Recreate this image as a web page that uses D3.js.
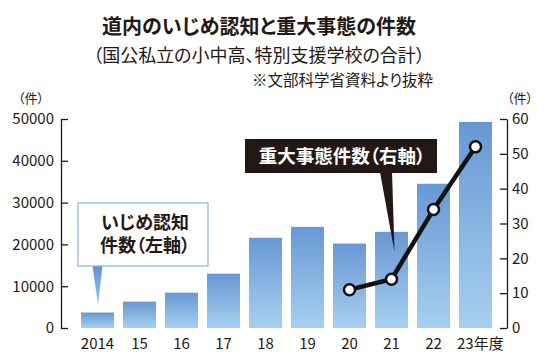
<!DOCTYPE html>
<html>
<head>
<meta charset="utf-8">
<script src="https://cdn.jsdelivr.net/npm/d3@7"></script>
<style>
  body { margin:0; background:#fff; }
  svg text { font-family:"Noto Sans CJK JP","Noto Sans",sans-serif; fill:#231815; font-feature-settings:"palt"; }
</style>
</head>
<body>
<svg id="chart" width="550" height="363"></svg>
<script>
// data
var years = ["2014","15","16","17","18","19","20","21","22","23年度"];
var ijime = [3700, 6300, 8450, 13000, 21600, 24200, 20200, 23000, 34500, 49300];
var seriousYears = ["20","21","22","23年度"];
var serious = [11, 14, 34, 52];
var leftTicks = [0,10000,20000,30000,40000,50000];
var rightTicks = [0,10,20,30,40,50,60];

var svg = d3.select("#chart");
var plotTop = 119, plotBottom = 328;

var x = d3.scaleBand().domain(years).range([76.5,496.5]).paddingInner(0.214).paddingOuter(0.107);
var yL = d3.scaleLinear().domain([0,50000]).range([plotBottom,plotTop]);
var yR = d3.scaleLinear().domain([0,60]).range([plotBottom,plotTop]);

// gradient for bars
var defs = svg.append("defs");
var grad = defs.append("linearGradient").attr("id","barGrad")
	.attr("x1",0).attr("y1",0).attr("x2",0).attr("y2",1);
grad.append("stop").attr("offset","0%").attr("stop-color","#6898d5");
grad.append("stop").attr("offset","100%").attr("stop-color","#a7d0ef");
var gradP = defs.append("linearGradient").attr("id","ptrGrad")
	.attr("x1",0).attr("y1",0).attr("x2",0).attr("y2",1);
gradP.append("stop").attr("offset","0%").attr("stop-color","#5f93d3");
gradP.append("stop").attr("offset","100%").attr("stop-color","#9cc6ea");

// titles
svg.append("text").attr("x",259).attr("y",34).attr("text-anchor","middle")
	.style("font-size","20px").style("font-weight","bold")
	.text("道内のいじめ認知と重大事態の件数");
svg.append("text").attr("x",259).attr("y",62).attr("text-anchor","middle")
	.style("font-size","18px")
	.text("（国公私立の小中高、特別支援学校の合計）");
svg.append("text").attr("x",433).attr("y",86).attr("text-anchor","end")
	.style("font-size","15.5px")
	.text("※文部科学省資料より抜粋");
svg.append("text").attr("x",31).attr("y",103).attr("text-anchor","middle")
	.style("font-size","13px").text("（件）");
svg.append("text").attr("x",520).attr("y",103).attr("text-anchor","middle")
	.style("font-size","13px").text("（件）");

// bars
svg.append("g").selectAll("rect")
	.data(ijime)
	.enter()
	.append("rect")
	.attr("x",function(d,i){ return x(years[i]); })
	.attr("y",function(d){ return yL(d); })
	.attr("width",x.bandwidth())
	.attr("height",function(d){ return plotBottom - yL(d); })
	.attr("fill","url(#barGrad)");

// axes
var axL = svg.append("g").attr("transform","translate(61,0)")
	.call(d3.axisLeft(yL).tickValues(leftTicks).tickSizeInner(-7).tickSizeOuter(0).tickPadding(7).tickFormat(d3.format("d")));
var axR = svg.append("g").attr("transform","translate(507,0)")
	.call(d3.axisRight(yR).tickValues(rightTicks).tickSizeInner(-7).tickSizeOuter(0).tickPadding(5));
[axL,axR].forEach(function(ax){
	ax.selectAll("path,line").attr("stroke","#231815").attr("stroke-width",1.3);
	ax.selectAll("text").style("font-size","15px").attr("fill","#231815")
		.style("font-family","'Noto Sans CJK JP',sans-serif");
});

// x labels
svg.append("g").selectAll("text")
	.data(years)
	.enter()
	.append("text")
	.attr("x",function(d,i){ return i==years.length-1 ? x(d)-2 : x(d)+x.bandwidth()/2; })
	.attr("y",349)
	.attr("text-anchor",function(d,i){ return i==years.length-1 ? "start" : "middle"; })
	.style("font-size","15px")
	.text(function(d){ return d; });

// left callout
var lb = svg.append("g");
var p0 = x(years[0]) + x.bandwidth()/2;
lb.append("path")
	.attr("d","M"+(p0-5)+",266 L"+(p0+5)+",266 L"+(p0+0.5)+",305 Z")
	.attr("fill","url(#ptrGrad)");
lb.append("rect").attr("x",78).attr("y",203).attr("width",130).attr("height",63)
	.attr("fill","#fff").attr("stroke","#8fb3d9").attr("stroke-width",1.2);
lb.append("text").attr("x",145).attr("y",229).attr("text-anchor","middle")
	.style("font-size","18px").style("font-weight","bold").text("いじめ認知");
lb.append("text").attr("x",145).attr("y",252).attr("text-anchor","middle")
	.style("font-size","18px").style("font-weight","bold").text("件数（左軸）");

// dark callout
var db = svg.append("g");
var p1 = x("21") + x.bandwidth()/2;
db.append("path")
	.attr("d","M380,172 L392,172 L"+(p1+3)+",252 Z")
	.attr("fill","#231815");
db.append("rect").attr("x",245).attr("y",139).attr("width",192).attr("height",34)
	.attr("fill","#231815");
db.append("text").attr("x",342).attr("y",163).attr("text-anchor","middle")
	.style("font-size","18.5px").style("font-weight","bold").style("fill","#fff")
	.text("重大事態件数（右軸）");

// line
var line = d3.line()
	.x(function(d,i){ return x(seriousYears[i]) + x.bandwidth()/2; })
	.y(function(d){ return yR(d); });
svg.append("path").datum(serious)
	.attr("d",line)
	.attr("fill","none").attr("stroke","#111").attr("stroke-width",4.5)
	.attr("stroke-linejoin","round");
svg.append("g").selectAll("circle")
	.data(serious)
	.enter()
	.append("circle")
	.attr("cx",function(d,i){ return x(seriousYears[i]) + x.bandwidth()/2; })
	.attr("cy",function(d){ return yR(d); })
	.attr("r",5.5)
	.attr("fill","#fff").attr("stroke","#111").attr("stroke-width",2.5);
</script>
</body>
</html>
